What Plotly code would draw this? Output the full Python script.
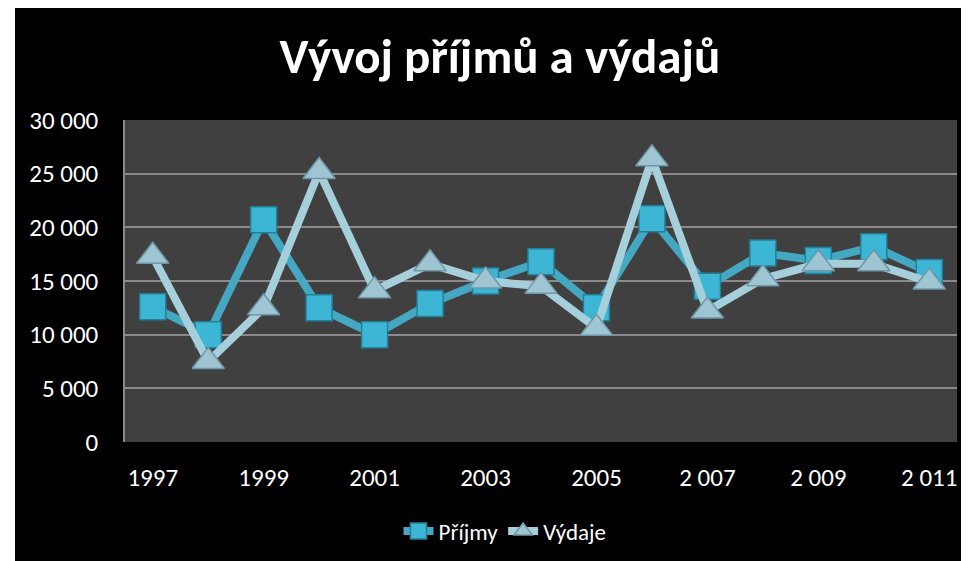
import plotly.graph_objects as go

years = list(range(1997, 2012))
prijmy = [12600, 10000, 20700, 12500, 10000, 12900, 15000, 16800, 12500, 20800, 14500, 17600, 16900, 18200, 15800]
vydaje = [17300, 7500, 12500, 25200, 14100, 16600, 15000, 14500, 10600, 26400, 12200, 15200, 16600, 16600, 14900]

x_tickvals = [1997, 1999, 2001, 2003, 2005, 2007, 2009, 2011]
x_ticktext = ["1997", "1999", "2001", "2003", "2005", "2 007", "2 009", "2 011"]
y_tickvals = [0, 5000, 10000, 15000, 20000, 25000, 30000]
y_ticktext = ["0", "5 000", "10 000", "15 000", "20 000", "25 000", "30 000"]

W, H = 969, 561
L, R, T, B = 117, 20, 112, 127
pw, ph = W - L - R, H - T - B

def px(xp):
    return (xp - L) / pw

def py(yp):
    return (H - B - yp) / ph

FONT = "Carlito, 'Liberation Sans Narrow', Lato, sans-serif"

fig = go.Figure()
fig.add_trace(go.Scatter(
    x=years, y=prijmy, name="Příjmy", mode="lines+markers",
    line=dict(color="#45A8C3", width=8),
    marker=dict(symbol="square", size=26, color="#3DB6D5",
                line=dict(color="#23809A", width=1.5)),
))
fig.add_trace(go.Scatter(
    x=years, y=vydaje, name="Výdaje", mode="lines+markers",
    line=dict(color="#A6CFDC", width=8),
    marker=dict(symbol="triangle-up", size=28, color="#9FC5D3",
                line=dict(color="#6F97A6", width=1.5)),
))

fig.update_layout(
    width=W, height=H,
    margin=dict(l=L, r=R, t=T, b=B),
    paper_bgcolor="#000000",
    plot_bgcolor="#404040",
    font=dict(family=FONT, color="#FFFFFF", size=25),
    title=dict(text="<b>Vývoj příjmů a výdajů</b>", x=492 / W, xanchor="center",
               y=1 - 48 / H, yanchor="middle", font=dict(size=49, color="#FFFFFF")),
    showlegend=True,
    legend=dict(orientation="h", x=px(497), xanchor="center", y=py(523), yanchor="middle",
                font=dict(size=23, color="#FFFFFF"), bgcolor="rgba(0,0,0,0)"),
    xaxis=dict(range=[1996.5, 2011.5], tickvals=x_tickvals, ticktext=x_ticktext,
               showgrid=False, zeroline=False, showline=False, ticks="",
               tickfont=dict(size=25), ticklabelstandoff=18),
    yaxis=dict(range=[0, 30000], tickvals=y_tickvals, ticktext=y_ticktext,
               showgrid=True, gridcolor="#8A8A8A", gridwidth=1.5, zeroline=False,
               showline=True, linecolor="#8A8A8A", linewidth=1.5, ticks="",
               tickfont=dict(size=25), ticklabelstandoff=20),
    shapes=[
        dict(type="rect", xref="paper", yref="paper", x0=px(0), x1=px(7), y0=py(H), y1=py(0),
             fillcolor="#FFFFFF", line=dict(width=0), layer="above"),
    ],
)

fig.write_html("out.html")
